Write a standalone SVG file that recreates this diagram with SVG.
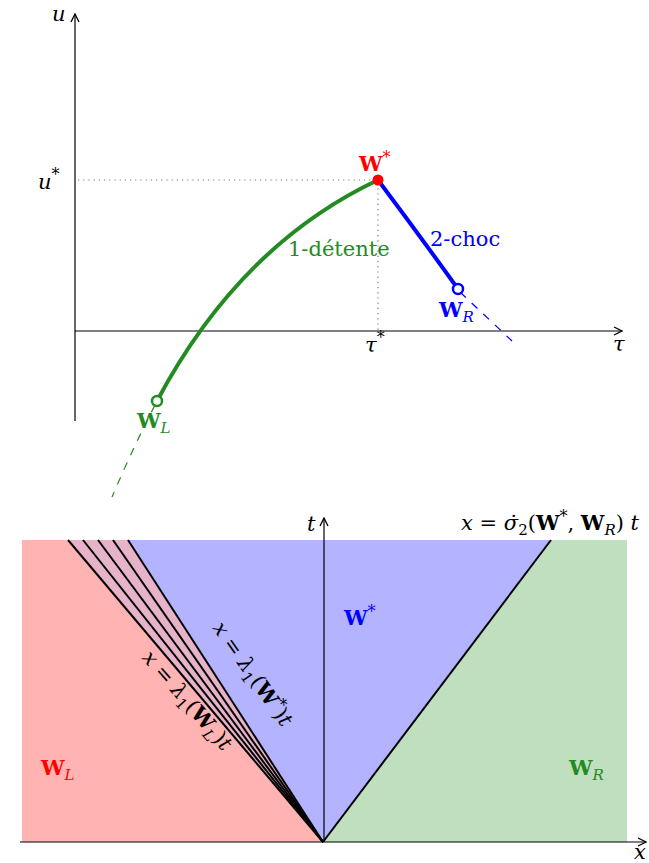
<svg xmlns="http://www.w3.org/2000/svg" width="649" height="863" viewBox="0 0 649 863">
<defs>
<marker id="arr" viewBox="0 0 10 10" refX="9" refY="5" markerWidth="10" markerHeight="10" markerUnits="userSpaceOnUse" orient="auto">
<path d="M1,1 L9,5 L1,9" fill="none" stroke="#000" stroke-width="1.3"/>
</marker>
</defs>
<style>
text{font-family:"DejaVu Serif","Liberation Serif",serif;font-size:21px}
.it{font-style:italic}
.bf{font-weight:bold}
.sub{font-size:15px;font-style:italic}
.st{font-size:16px;font-weight:normal;font-style:normal}
.axis{stroke:#000;stroke-width:1.2;fill:none}
.dot{stroke:#777;stroke-width:1.2;stroke-dasharray:1.2 4;fill:none}
.fan{stroke:#000;stroke-width:2;fill:none}
</style>
<g id="regions">
<rect x="22" y="540" width="605" height="302" fill="#ffb3b3"/>
<polygon points="128,540 551,540 323,842" fill="#b3b3ff"/>
<polygon points="551,540 627,540 627,842 323,842" fill="#bfdfbf"/>
<polygon points="68,540 128,540 323,842" fill="#e6b3c8"/>
</g>
<g id="connectors">
<line class="axis" x1="75" y1="421" x2="75" y2="14" marker-end="url(#arr)"/>
<line class="axis" x1="75" y1="331" x2="622" y2="331" marker-end="url(#arr)"/>
<line class="dot" x1="78" y1="180" x2="378" y2="180"/>
<line class="dot" x1="378" y1="183" x2="378" y2="331"/>
<path d="M157,401 Q240,245 378,180" fill="none" stroke="#228b22" stroke-width="4"/>
<path d="M155,405 Q132,450 112,497" fill="none" stroke="#228b22" stroke-width="1.2" stroke-dasharray="8 8"/>
<path d="M378,180 Q420,236 458,289" fill="none" stroke="#0000ff" stroke-width="4"/>
<line x1="460" y1="292" x2="512" y2="341" stroke="#0000ff" stroke-width="1.2" stroke-dasharray="8 8"/>
<line class="axis" x1="20" y1="842" x2="646" y2="842" marker-end="url(#arr)"/>
<line class="axis" x1="324" y1="842" x2="324" y2="518" marker-end="url(#arr)"/>
<line class="fan" x1="323" y1="842" x2="68" y2="540"/>
<line class="fan" x1="323" y1="842" x2="83" y2="540"/>
<line class="fan" x1="323" y1="842" x2="98" y2="540"/>
<line class="fan" x1="323" y1="842" x2="113" y2="540"/>
<line class="fan" x1="323" y1="842" x2="128" y2="540"/>
<line class="fan" x1="323" y1="842" x2="551" y2="540"/>
</g>
<g id="Wstar">
<circle cx="378" cy="180" r="5.5" fill="#ff0000"/>
<text x="359" y="171" class="bf" fill="#ff0000">W<tspan class="st" dy="-8">*</tspan></text>
</g>
<g id="WR">
<circle cx="458" cy="289" r="5" fill="#fff" stroke="#0000ff" stroke-width="2.5"/>
<text x="439" y="317" class="bf" fill="#0000ff">W<tspan class="sub" font-weight="normal" dy="5">R</tspan></text>
</g>
<g id="WL">
<circle cx="157" cy="401" r="5" fill="#fff" stroke="#228b22" stroke-width="2.5"/>
<text x="137" y="428" class="bf" fill="#228b22">W<tspan class="sub" font-weight="normal" dy="5">L</tspan></text>
</g>
<g id="labels-top">
<text x="52" y="21" class="it">u</text>
<text x="38" y="189" class="it">u<tspan class="st" dy="-9">*</tspan></text>
<text x="613" y="351" class="it">τ</text>
<text x="365" y="352" class="it">τ<tspan class="st" dy="-9">*</tspan></text>
<text x="288" y="256" fill="#228b22">1-détente</text>
<text x="430" y="246" fill="#0000ff">2-choc</text>
</g>
<g id="labels-bottom">
<text x="307" y="531" class="it">t</text>
<text x="634" y="859" class="it">x</text>
<text x="344" y="625" class="bf" fill="#0000ff">W<tspan class="st" dy="-8">*</tspan></text>
<text x="41" y="775" class="bf" fill="#ff0000">W<tspan class="sub" font-weight="normal" dy="5">L</tspan></text>
<text x="569" y="775" class="bf" fill="#228b22">W<tspan class="sub" font-weight="normal" dy="5">R</tspan></text>
<text x="461" y="530"><tspan class="it">x</tspan> = <tspan class="it">σ̇</tspan><tspan font-size="15" dy="5">2</tspan><tspan dy="-5">(</tspan><tspan class="bf">W</tspan><tspan class="st" dy="-8">*</tspan><tspan dy="8">, </tspan><tspan class="bf">W</tspan><tspan class="sub" dy="5">R</tspan><tspan dy="-5">) </tspan><tspan class="it">t</tspan></text>
<text transform="translate(247,678) rotate(55)" x="0" y="0" text-anchor="middle"><tspan class="it">x</tspan> = <tspan class="it">λ</tspan><tspan font-size="15" dy="5">1</tspan><tspan dy="-5">(</tspan><tspan class="bf">W</tspan><tspan class="st" dy="-8">*</tspan><tspan dy="8">)</tspan><tspan class="it">t</tspan></text>
<text transform="translate(182,705) rotate(49)" x="0" y="0" text-anchor="middle"><tspan class="it">x</tspan> = <tspan class="it">λ</tspan><tspan font-size="15" dy="5">1</tspan><tspan dy="-5">(</tspan><tspan class="bf">W</tspan><tspan class="sub" dy="5">L</tspan><tspan dy="-5">)</tspan><tspan class="it">t</tspan></text>
</g>
</svg>
